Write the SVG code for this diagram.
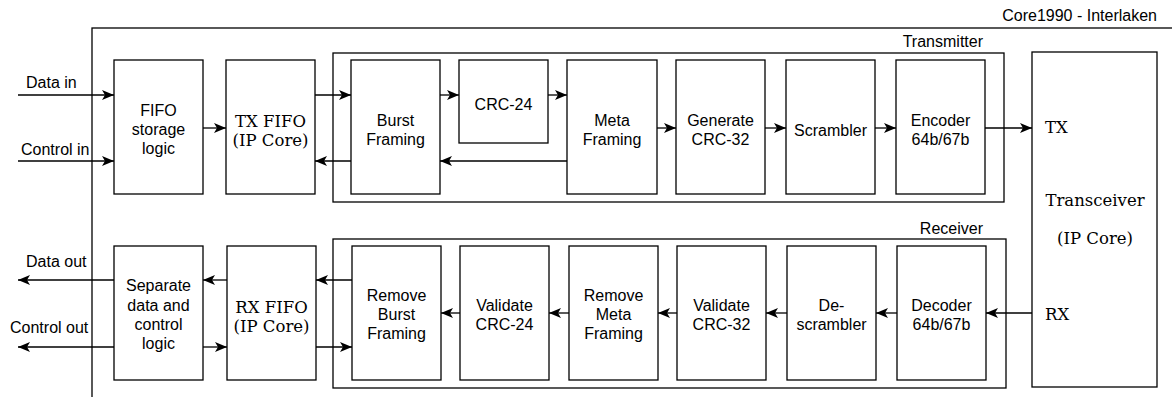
<svg xmlns="http://www.w3.org/2000/svg" width="1172" height="397" viewBox="0 0 1172 397">
<style>
.b{fill:#fff;stroke:#000;stroke-width:1.3}
.c{fill:none;stroke:#000;stroke-width:1.3}
.t{font-family:"Liberation Sans",Arial,sans-serif;font-size:16px;fill:#000;text-anchor:middle}
.l{font-family:"Liberation Sans",Arial,sans-serif;font-size:16px;fill:#000}
.r{text-anchor:end}
.s{font-family:"DejaVu Serif",serif;font-size:16.5px;fill:#000;text-anchor:middle}
.sl{font-family:"DejaVu Serif",serif;font-size:16.5px;fill:#000;text-anchor:start}
.e{stroke:#000;stroke-width:1.3;fill:none;marker-end:url(#a)}
</style>
<defs>
<marker id="a" markerUnits="userSpaceOnUse" markerWidth="13" markerHeight="11" refX="12" refY="5.5" orient="auto">
<path d="M0,0.5 L12,5.5 L0,10.5 L3,5.5 z" fill="#000"/>
</marker>
</defs>
<rect width="1172" height="397" fill="#fff"/>
<g id="frame">
<rect class="c" x="92" y="28" width="1120" height="420"/>
<text class="l r" x="1157" y="21">Core1990 - Interlaken</text>
</g>
<g id="transmitter">
<rect class="c" x="333" y="53" width="671" height="149"/>
<text class="l r" x="983" y="47">Transmitter</text>
</g>
<g id="receiver">
<rect class="c" x="333" y="239" width="673" height="149"/>
<text class="l r" x="983" y="234">Receiver</text>
</g>
<g id="fifo-storage"><rect class="b" x="114" y="60" width="89" height="134"/>
<text class="t" x="158.5" y="116">FIFO</text><text class="t" x="158.5" y="135">storage</text><text class="t" x="158.5" y="154">logic</text></g>
<g id="tx-fifo"><rect class="b" x="226" y="60" width="89" height="134"/>
<text class="s" x="270.5" y="127">TX FIFO</text><text class="s" x="270.5" y="146">(IP Core)</text></g>
<g id="burst-framing"><rect class="b" x="351" y="60" width="89" height="134"/>
<text class="t" x="395.5" y="126">Burst</text><text class="t" x="395.5" y="145">Framing</text></g>
<g id="crc24"><rect class="b" x="459" y="60" width="89" height="83"/>
<text class="t" x="503.5" y="110">CRC-24</text></g>
<g id="meta-framing"><rect class="b" x="567" y="60" width="90" height="134"/>
<text class="t" x="612" y="126">Meta</text><text class="t" x="612" y="145">Framing</text></g>
<g id="gen-crc32"><rect class="b" x="676" y="60" width="89" height="134"/>
<text class="t" x="720.5" y="126">Generate</text><text class="t" x="720.5" y="145">CRC-32</text></g>
<g id="scrambler"><rect class="b" x="786" y="60" width="89" height="134"/>
<text class="t" x="830.5" y="136">Scrambler</text></g>
<g id="encoder"><rect class="b" x="896" y="60" width="89" height="134"/>
<text class="t" x="940.5" y="126">Encoder</text><text class="t" x="940.5" y="145">64b/67b</text></g>
<g id="transceiver"><rect class="b" x="1032" y="52" width="125" height="335"/>
<text class="sl" x="1045" y="133">TX</text>
<text class="s" x="1095" y="206">Transceiver</text>
<text class="s" x="1095" y="244">(IP Core)</text>
<text class="sl" x="1045" y="320">RX</text></g>
<g id="separate"><rect class="b" x="114" y="246" width="89" height="134"/>
<text class="t" x="158.5" y="291">Separate</text><text class="t" x="158.5" y="311">data and</text><text class="t" x="158.5" y="330">control</text><text class="t" x="158.5" y="349">logic</text></g>
<g id="rx-fifo"><rect class="b" x="227" y="246" width="89" height="134"/>
<text class="s" x="271.5" y="313">RX FIFO</text><text class="s" x="271.5" y="332">(IP Core)</text></g>
<g id="remove-burst"><rect class="b" x="352" y="246" width="89" height="134"/>
<text class="t" x="396.5" y="301">Remove</text><text class="t" x="396.5" y="320">Burst</text><text class="t" x="396.5" y="339">Framing</text></g>
<g id="validate-crc24"><rect class="b" x="460" y="246" width="89" height="134"/>
<text class="t" x="504.5" y="311">Validate</text><text class="t" x="504.5" y="330">CRC-24</text></g>
<g id="remove-meta"><rect class="b" x="569" y="246" width="89" height="134"/>
<text class="t" x="613.5" y="301">Remove</text><text class="t" x="613.5" y="320">Meta</text><text class="t" x="613.5" y="339">Framing</text></g>
<g id="validate-crc32"><rect class="b" x="677" y="246" width="89" height="134"/>
<text class="t" x="721.5" y="311">Validate</text><text class="t" x="721.5" y="330">CRC-32</text></g>
<g id="descrambler"><rect class="b" x="787" y="246" width="89" height="134"/>
<text class="t" x="831.5" y="311">De-</text><text class="t" x="831.5" y="330">scrambler</text></g>
<g id="decoder"><rect class="b" x="897" y="246" width="89" height="134"/>
<text class="t" x="941.5" y="311">Decoder</text><text class="t" x="941.5" y="330">64b/67b</text></g>
<g id="connectors">
<path class="e" d="M18,95 H114"/>
<path class="e" d="M18,161 H114"/>
<path class="e" d="M203,128 H226"/>
<path class="e" d="M315,95 H351"/>
<path class="e" d="M351,161 H315"/>
<path class="e" d="M440,95 H459"/>
<path class="e" d="M548,95 H567"/>
<path class="e" d="M567,161 H440"/>
<path class="e" d="M657,128 H676"/>
<path class="e" d="M765,128 H786"/>
<path class="e" d="M875,128 H896"/>
<path class="e" d="M985,128 H1032"/>
<path class="e" d="M114,280 H18"/>
<path class="e" d="M114,347 H18"/>
<path class="e" d="M227,280 H203"/>
<path class="e" d="M203,347 H227"/>
<path class="e" d="M316,347 H352"/>
<path class="e" d="M352,280 H316"/>
<path class="e" d="M460,313 H441"/>
<path class="e" d="M569,313 H549"/>
<path class="e" d="M677,313 H658"/>
<path class="e" d="M787,313 H766"/>
<path class="e" d="M897,313 H876"/>
<path class="e" d="M1032,313 H986"/>
<text class="l" x="26" y="88">Data in</text>
<text class="l" x="21" y="155">Control in</text>
<text class="l" x="26" y="267">Data out</text>
<text class="l" x="10" y="333">Control out</text>
</g>
</svg>
